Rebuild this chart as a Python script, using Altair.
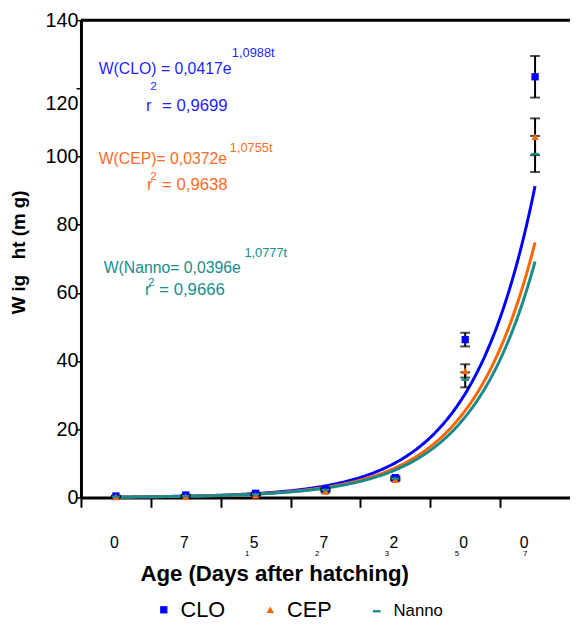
import altair as alt
import pandas as pd

# ---------------- data ----------------
series = ["CLO", "CEP", "Nanno"]
t_index = [1, 2, 3, 4, 5, 6, 7]            # sampling order (days 0,7,15,27,32,50,70)
tick_main = ["0", "7", "5", "7", "2", "0", "0"]
tick_sub = ["", "", "1", "2", "3", "5", "7"]

clo_mean = [0.4, 0.7, 1.2, 2.5, 5.8, 46.3, 123.4]
clo_err = [0.1, 0.1, 0.2, 0.3, 0.4, 2.0, 6.1]
cep_mean = [0.1, 0.2, 0.6, 1.7, 5.2, 37.1, 105.8]
cep_err = [0.05, 0.1, 0.1, 0.3, 0.4, 1.95, 5.4]
nanno_mean = [0.2, 0.4, 0.9, 2.2, 5.5, 34.5, 100.75]
nanno_err = [0.05, 0.1, 0.2, 0.3, 0.4, 2.2, 5.3]

# exponential trend lines as drawn (W = a * e^(b t))
curve_a = [0.0417, 0.0396, 0.0372]
curve_b = [1.0988, 1.0777, 1.0755]

eq_text = ["W(CLO) = 0,0417e", "W(CEP)= 0,0372e", "W(Nanno= 0,0396e"]
eq_exp = ["1,0988t", "1,0755t", "1,0777t"]
r2_text = ["= 0,9699", "= 0,9638", "= 0,9666"]

colors = ["#0000FF", "#FF6600", "#188C8C"]
text_colors = ["#1F1FFF", "#FF6A1F", "#1A8C8C"]

# ---------------- tables ----------------
rows = []
for s, m, e in zip(series, [clo_mean, cep_mean, nanno_mean], [clo_err, cep_err, nanno_err]):
    for t, mm, ee in zip(t_index, m, e):
        rows.append({"series": s, "t": t, "mean": mm, "lo": mm - ee, "hi": mm + ee})
pts = pd.DataFrame(rows)
curve_df = pd.DataFrame({"series": series, "a": curve_a, "b": curve_b})
lab_df = pd.DataFrame({"t": t_index, "main": tick_main, "sub": tick_sub})
one = pd.DataFrame({"k": [0]})

FONT = "Liberation Sans, Arial, sans-serif"
NB = "\u00a0"

xscale = alt.Scale(domain=[0.5, 7.5], nice=False, zero=False)
yscale = alt.Scale(domain=[0, 140], nice=False)
color_scale = alt.Scale(domain=series, range=colors)
shape_scale = alt.Scale(domain=series,
                        range=["square", "triangle-up", "M-1,-0.3L1,-0.3L1,0.3L-1,0.3Z"])

x_axis = alt.Axis(values=[0.5, 1.5, 2.5, 3.5, 4.5, 5.5, 6.5], labels=False,
                  tickSize=10, tickWidth=2, tickColor="black",
                  domainWidth=3, domainColor="black", grid=False,
                  title="Age (Days after hatching)", titleFont=FONT, titleFontSize=22.5,
                  titleFontWeight="bold", titleColor="black",
                  titleX=196, titleY=77, titleAlign="center", titleBaseline="middle")
y_axis = alt.Axis(values=[0, 20, 40, 60, 80, 100, 120, 140],
                  labelFont=FONT, labelFontSize=20, labelColor="black",
                  labelPadding=-2,
                  labelOffset={"condition": {"test": "datum.value === 120", "value": 15}, "value": 0},
                  tickSize=5, tickWidth=1.5, tickColor="black",
                  domainWidth=3, domainColor="black", grid=False,
                  title="W ig" + NB * 3 + "ht (m g)", titleFont=FONT, titleFontSize=19,
                  titleFontWeight="bold", titleColor="black", titleAngle=270,
                  titleX=-63, titleY=235, titleAlign="center", titleBaseline="middle")

X = alt.X("t:Q", scale=xscale, axis=x_axis)
Y = alt.Y("mean:Q", scale=yscale, axis=y_axis)

top_rule = alt.Chart(one).mark_rule(color="black", strokeWidth=3).encode(y=alt.datum(140))

layers = [top_rule]

for s in series:
    layers.append(
        alt.Chart(curve_df)
        .transform_filter(alt.datum.series == s)
        .transform_calculate(ts="sequence(1, 7.01, 0.02)")
        .transform_flatten(["ts"])
        .transform_calculate(W="datum.a * exp(datum.b * datum.ts)")
        .mark_line(strokeWidth=3)
        .encode(x=alt.X("ts:Q", scale=xscale, axis=x_axis),
                y=alt.Y("W:Q", scale=yscale, axis=y_axis),
                color=alt.Color("series:N", scale=color_scale))
    )

bars = alt.Chart(pts).mark_rule(color="black", strokeWidth=2).encode(
    x=X, y=alt.Y("lo:Q", scale=yscale, axis=y_axis), y2="hi:Q")
caps_lo = alt.Chart(pts).mark_tick(orient="horizontal", size=10, thickness=2, color="black").encode(
    x=X, y=alt.Y("lo:Q", scale=yscale, axis=y_axis))
caps_hi = alt.Chart(pts).mark_tick(orient="horizontal", size=10, thickness=2, color="black").encode(
    x=X, y=alt.Y("hi:Q", scale=yscale, axis=y_axis))
layers += [bars, caps_lo, caps_hi]

legend = alt.Legend(title=None, orient="none", legendX=73, legendY=587,
                    direction="horizontal", labelFont=FONT,
                    labelFontSize={"expr": "datum.label === 'Nanno' ? 17 : 22"},
                    labelColor="black", symbolSize=55, symbolStrokeWidth=0,
                    labelOffset=6, columnPadding=34)

points = alt.Chart(pts).mark_point(filled=True, opacity=1).encode(
    x=X, y=Y,
    color=alt.Color("series:N", scale=color_scale, legend=legend),
    shape=alt.Shape("series:N", scale=shape_scale, legend=legend),
    size=alt.Size("series:N", scale=alt.Scale(domain=series, range=[55, 60, 90]), legend=None),
)
layers.append(points)

# x tick labels (garbled as in the original)
main_a = alt.Chart(lab_df).transform_filter("datum.t < 7").mark_text(
    font=FONT, fontSize=16, color="black", dx=-1.5).encode(
    x=alt.X("t:Q", scale=xscale, axis=x_axis), y=alt.value(530), text="main:N")
main_b = alt.Chart(lab_df).transform_filter("datum.t == 7").mark_text(
    font=FONT, fontSize=16, color="black", dx=-11).encode(
    x=alt.X("t:Q", scale=xscale, axis=x_axis), y=alt.value(530), text="main:N")
sub_a = alt.Chart(lab_df).transform_filter("datum.t < 7").mark_text(
    font=FONT, fontSize=8, color="black", dx=-8.5).encode(
    x=alt.X("t:Q", scale=xscale, axis=x_axis), y=alt.value(541.5), text="sub:N")
sub_b = alt.Chart(lab_df).transform_filter("datum.t == 7").mark_text(
    font=FONT, fontSize=8, color="black", dx=-10).encode(
    x=alt.X("t:Q", scale=xscale, axis=x_axis), y=alt.value(541.5), text="sub:N")
layers += [main_a, main_b, sub_a, sub_b]


def note(txt, x, y, color, size):
    return alt.Chart(one).mark_text(text=txt, align="left", baseline="middle",
                                    font=FONT, fontSize=size, color=color).encode(
        x=alt.datum(x, scale=xscale), y=alt.datum(y, scale=yscale))


# equation annotations (x in t units, y in mg)
pos = [
    # eq, exp, r, sup2, r2
    ((0.754, 125.8), (2.66, 130.4), (1.431, 114.8), (1.49, 120.6), (1.66, 114.8)),
    ((0.754, 99.2), (2.63, 102.6), (1.445, 91.7), (1.49, 94.2), (1.66, 91.7)),
    ((0.825, 67.4), (2.84, 71.6), (1.417, 60.7), (1.46, 63.2), (1.62, 60.7)),
]
for i in range(3):
    c = text_colors[i]
    p = pos[i]
    layers.append(note(eq_text[i], p[0][0], p[0][1], c, 16))
    layers.append(note(eq_exp[i], p[1][0], p[1][1], c, 13))
    layers.append(note("r", p[2][0], p[2][1], c, 17))
    layers.append(note("2", p[3][0], p[3][1], c, 12))
    layers.append(note(r2_text[i], p[4][0], p[4][1], c, 17))

chart = alt.layer(*layers).properties(
    width=496, height=484,
    padding={"left": 74, "top": 8, "right": 0, "bottom": 122},
    autosize=alt.AutoSizeParams(type="none"),
).configure_view(stroke=None).configure(background="white")

chart.save("out.html", embed_options={"renderer": "svg", "actions": False})
